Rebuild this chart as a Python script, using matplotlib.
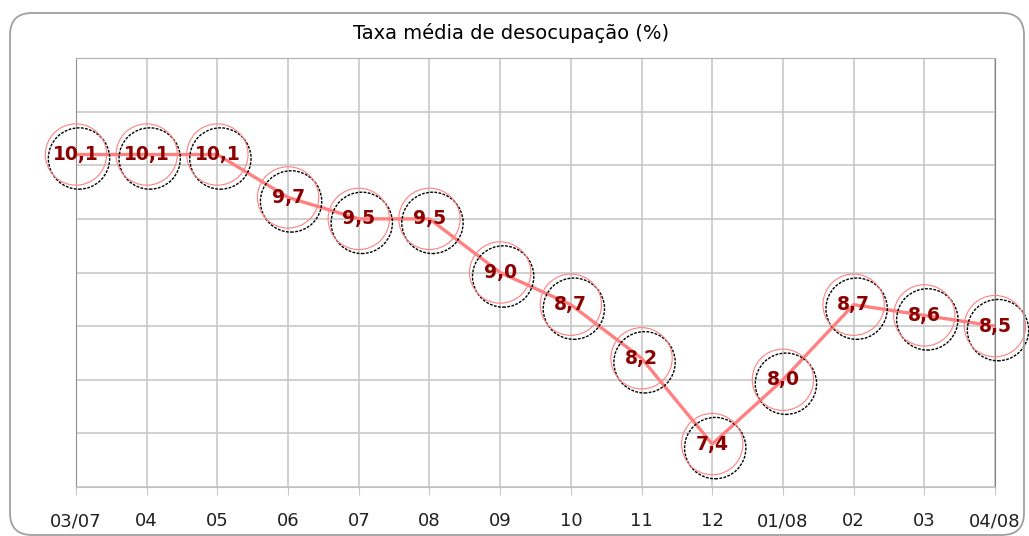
import matplotlib.pyplot as plt
from matplotlib.patches import FancyBboxPatch
from matplotlib.transforms import ScaledTranslation, IdentityTransform

meses = ["03/07", "04", "05", "06", "07", "08", "09", "10", "11", "12",
         "01/08", "02", "03", "04/08"]
taxa = [10.1, 10.1, 10.1, 9.7, 9.5, 9.5, 9.0, 8.7, 8.2, 7.4, 8.0, 8.7, 8.6, 8.5]
y_ticks = [7.0, 7.5, 8.0, 8.5, 9.0, 9.5, 10.0, 10.5, 11.0]

LINE_COLOR = "#ff8080"
LABEL_COLOR = "#8b0000"
GRID_COLOR = "#c8c8c8"

W, H = 1029, 536
fig = plt.figure(figsize=(W / 100, H / 100), dpi=100)
fig.patch.set_facecolor("white")

# moldura arredondada em volta do gráfico (coordenadas em pixels)
frame = FancyBboxPatch((10, 1), 1014, 522,
                       boxstyle="round,pad=0,rounding_size=22",
                       transform=IdentityTransform(), fill=False,
                       edgecolor="#a0a0a0", linewidth=1.3)
fig.patches.append(frame)

ax = fig.add_axes([76 / W, 49 / H, 919 / W, 429 / H])
x = list(range(len(meses)))

ax.plot(x, taxa, color=LINE_COLOR, linewidth=2.4, zorder=3)

# círculo preto tracejado levemente deslocado + círculo rosa no ponto
desloc = ax.transData + ScaledTranslation(3 / 100, -4 / 100, fig.dpi_scale_trans)
ax.scatter(x, taxa, s=1950, facecolors="none", edgecolors="black",
           linewidths=1.0, linestyle=(0, (2, 1)), zorder=4, clip_on=False,
           transform=desloc)
ax.scatter(x, taxa, s=1950, facecolors="none", edgecolors=LINE_COLOR,
           linewidths=0.8, zorder=4, clip_on=False)

for xi, v in zip(x, taxa):
    ax.text(xi, v, f"{v:.1f}".replace(".", ","), ha="center", va="center",
            color=LABEL_COLOR, fontsize=13.5, fontweight="bold", zorder=5)

ax.set_xlim(0, len(meses) - 1)
ax.set_ylim(7.0, 11.0)
ax.set_xticks(x)
ax.set_xticklabels(meses, fontsize=13, color="#202020")
ax.set_yticks(y_ticks)
ax.set_yticklabels([])
ax.tick_params(axis="y", length=0)
ax.tick_params(axis="x", length=6, color=GRID_COLOR, pad=12)
ax.grid(True, color=GRID_COLOR, linewidth=1.2)
ax.set_axisbelow(True)
ax.spines["top"].set_color("#b0b0b0")
ax.spines["bottom"].set_color("#c0c0c0")
ax.spines["left"].set_color("#909090")
ax.spines["right"].set_color("#808080")

fig.text(511 / W, 1 - 33 / H, "Taxa média de desocupação (%)",
         ha="center", va="center", fontsize=14)

fig.savefig("out.png", dpi=100)
